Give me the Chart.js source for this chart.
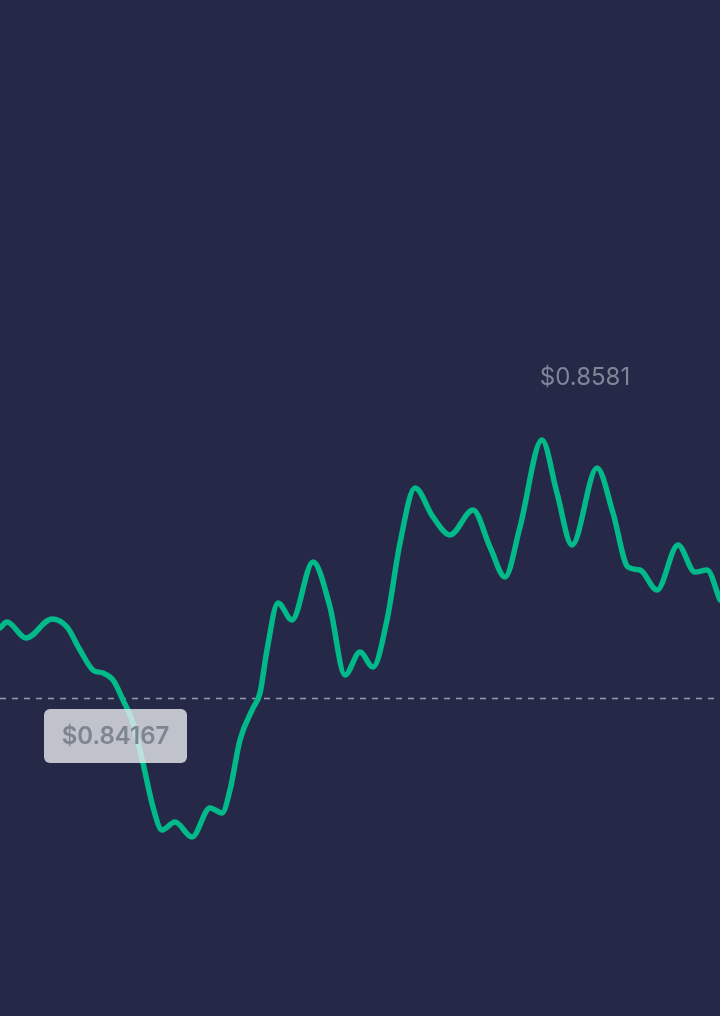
<!DOCTYPE html>
<html>
<head>
<meta charset="utf-8">
<script src="https://cdn.jsdelivr.net/npm/chart.js@4"></script>
<style>
  html, body { margin: 0; padding: 0; background: #252947; }
  #wrap { width: 720px; height: 1016px; }
</style>
</head>
<body>
<div id="wrap"><canvas id="chartPrecio"></canvas></div>
<script>
// --- DATOS ---
// minutos desde el inicio del periodo (24h)
const minutos = [0, 14, 52, 104, 134, 160, 186, 206, 226, 246, 266, 286, 306, 324, 350, 384, 420, 444, 460, 480,
    506, 520, 534, 556, 584, 626, 660, 690, 720, 746, 774, 800, 830, 866, 900, 946, 980, 1010, 1040, 1084,
    1114, 1144, 1194, 1226, 1256, 1280, 1314, 1356, 1390, 1414, 1440];
const precios = [0.84613, 0.84651, 0.84549, 0.84670, 0.84619, 0.84473, 0.84345, 0.84326, 0.84282, 0.84154,
    0.84008, 0.83753, 0.83473, 0.83326, 0.83377, 0.83282, 0.83467, 0.83435, 0.83581, 0.83900,
    0.84103, 0.84199, 0.84473, 0.84772, 0.84664, 0.85033, 0.84747, 0.84313, 0.84460, 0.84364,
    0.84664, 0.85154, 0.85504, 0.85320, 0.85205, 0.85364, 0.85129, 0.84938, 0.85256, 0.85810,
    0.85472, 0.85141, 0.85632, 0.85345, 0.85001, 0.84982, 0.84855, 0.85141, 0.84969, 0.84982, 0.84791];
const precioReferencia = 0.84167;
const etiquetaReferencia = '$0.84167';
const etiquetaMaximo = '$0.8581';

// --- PLUGIN: linea de referencia + etiquetas ---
const pluginEtiquetas = {
    id: 'etiquetas',
    beforeDatasetsDraw(chart) {
        const { ctx, chartArea, scales } = chart;
        const y = Math.round(scales.y.getPixelForValue(precioReferencia)) + 0.5;
        ctx.save();
        ctx.strokeStyle = 'rgba(170,174,190,0.85)';
        ctx.lineWidth = 1.5;
        ctx.setLineDash([6, 6]);
        ctx.beginPath();
        ctx.moveTo(chartArea.left, y);
        ctx.lineTo(chartArea.right, y);
        ctx.stroke();
        ctx.restore();
    },
    afterDatasetsDraw(chart) {
        const { ctx, scales } = chart;
        const yRef = scales.y.getPixelForValue(precioReferencia);

        // caja de la referencia (semi transparente, la linea se ve a traves)
        ctx.save();
        ctx.fillStyle = 'rgba(236,237,242,0.78)';
        ctx.beginPath();
        ctx.roundRect(44, yRef + 11, 143, 54, 6);
        ctx.fill();
        ctx.fillStyle = '#7d858f';
        ctx.font = '600 24px Inter';
        ctx.textAlign = 'center';
        ctx.textBaseline = 'middle';
        ctx.fillText(etiquetaReferencia, 115.5, yRef + 39);

        // maximo
        const iMax = precios.indexOf(Math.max(...precios));
        const xMax = scales.x.getPixelForValue(minutos[iMax]);
        const yMax = scales.y.getPixelForValue(precios[iMax]);
        ctx.fillStyle = '#7e8596';
        ctx.font = '400 24px Inter';
        ctx.fillText(etiquetaMaximo, xMax + 43, yMax - 62);
        ctx.restore();
    }
};

const ctx1 = document.getElementById('chartPrecio').getContext('2d');
new Chart(ctx1, {
    type: 'line',
    data: {
        datasets: [{
            data: minutos.map((m, i) => ({ x: m, y: precios[i] })),
            borderColor: '#02b98a',
            borderWidth: 5.5,
            borderCapStyle: 'round',
            borderJoinStyle: 'round',
            pointRadius: 0,
            cubicInterpolationMode: 'monotone',
            fill: false
        }]
    },
    options: {
        responsive: true, maintainAspectRatio: false, animation: false,
        layout: { padding: 0 },
        plugins: { legend: { display: false }, tooltip: { enabled: false } },
        scales: {
            x: { type: 'linear', min: 0, max: 1440, display: false },
            y: { min: 0.82142, max: 0.88612, display: false }
        }
    },
    plugins: [pluginEtiquetas]
});
</script>
</body>
</html>
